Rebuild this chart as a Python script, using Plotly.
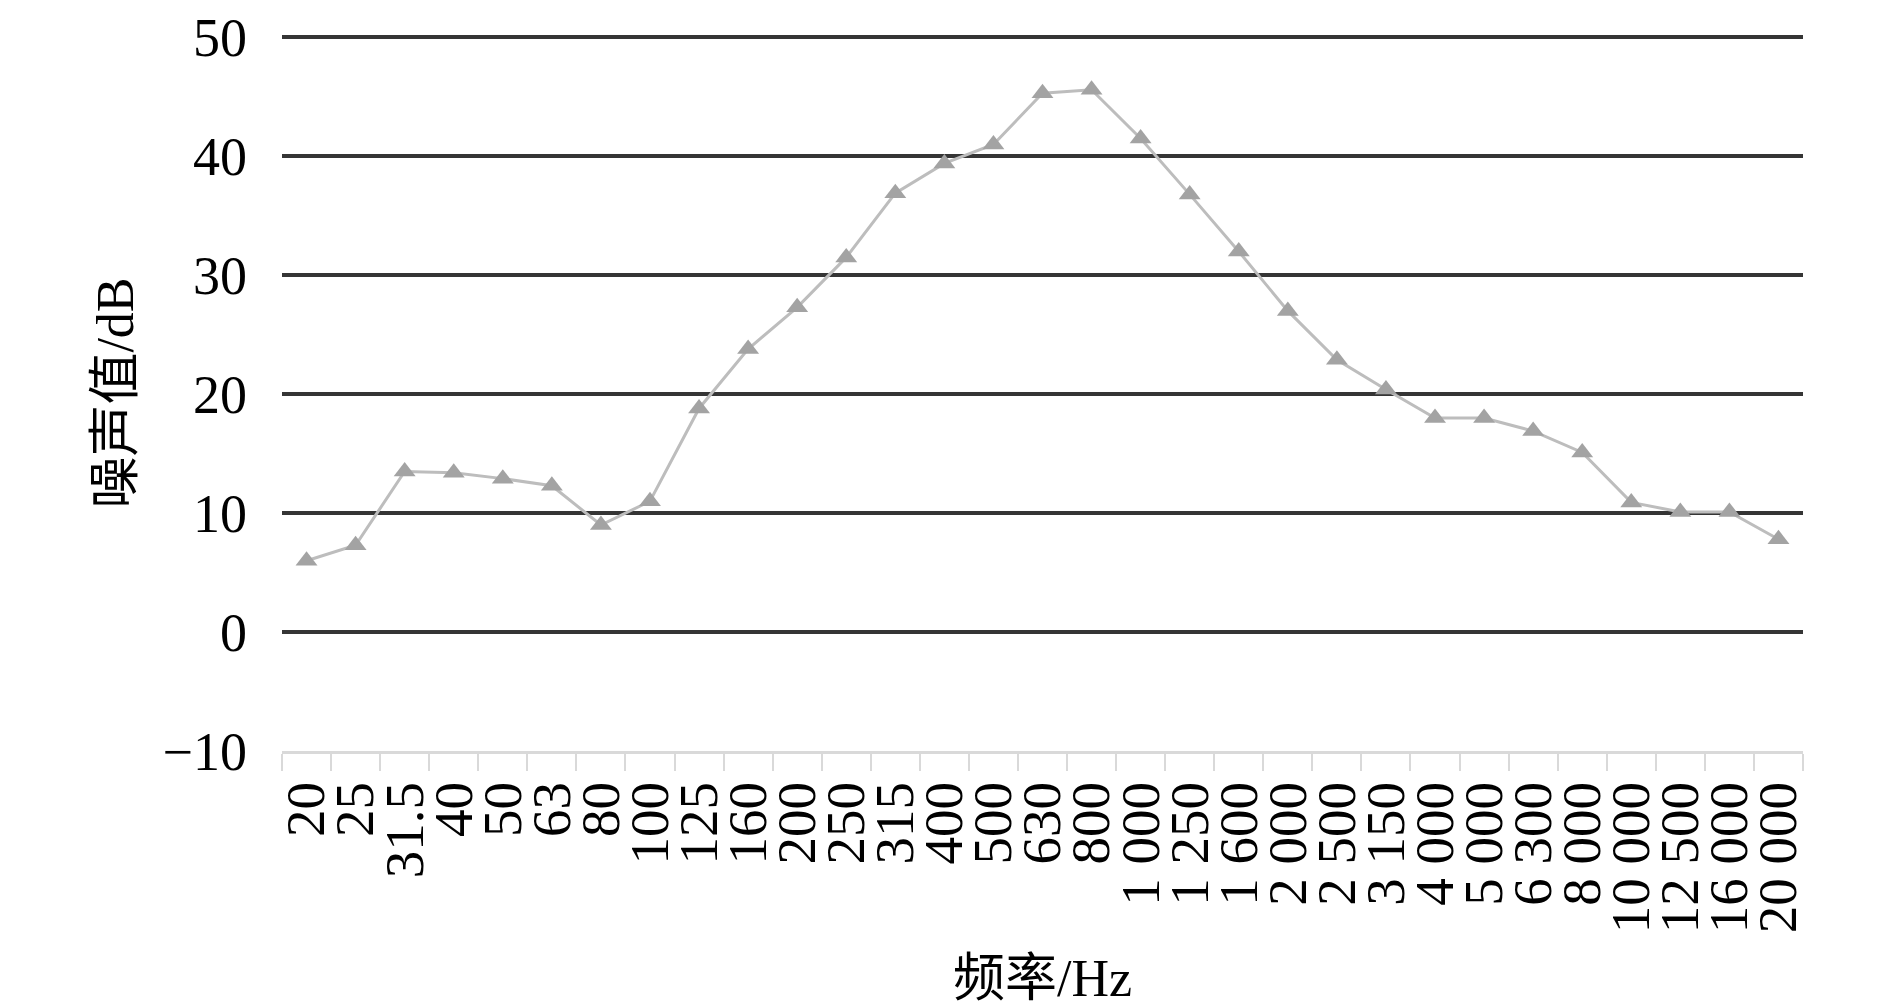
import plotly.graph_objects as go

# 1/3 octave band centre frequencies (labels as printed, with thin spacing)
freq_labels = ["20", "25", "31.5", "40", "50", "63", "80", "100", "125", "160",
               "200", "250", "315", "400", "500", "630", "800", "1 000", "1 250",
               "1 600", "2 000", "2 500", "3 150", "4 000", "5 000", "6 300",
               "8 000", "10 000", "12 500", "16 000", "20 000"]

# noise level per band, dB
noise_db = [6.0, 7.3, 13.5, 13.4, 12.9, 12.3, 9.0, 11.0, 18.8, 23.8,
            27.3, 31.5, 36.9, 39.4, 41.0, 45.3, 45.6, 41.5, 36.8,
            32.0, 27.0, 22.9, 20.4, 18.0, 18.0, 16.9,
            15.1, 10.9, 10.1, 10.1, 7.8]

y_ticks = [-10, 0, 10, 20, 30, 40, 50]

FONT = "Liberation Serif, 'Times New Roman', 'Noto Sans CJK SC', serif"

fig = go.Figure()

fig.add_trace(go.Scatter(
    x=freq_labels,
    y=noise_db,
    mode="lines+markers",
    line=dict(color="#bdbdbd", width=3),
    marker=dict(symbol="triangle-up", size=19, color="#a3a3a3"),
    showlegend=False
))

fig.update_xaxes(
    type="category",
    range=[-0.5, len(freq_labels) - 0.5],
    tickmode="linear", dtick=1,
    tickangle=-90,
    tickson="boundaries",
    ticks="outside", ticklen=17, tickwidth=2, tickcolor="#d9d9d9",
    showline=True, linecolor="#d9d9d9", linewidth=3,
    showgrid=False,
    automargin=False,
    tickfont=dict(family=FONT, size=55, color="black"),
    ticklabelstandoff=6,
    title=dict(text="频率/Hz", font=dict(family=FONT, size=52, color="black"), standoff=28),
)

# top of range nudged so the 50 gridline is not clipped at the plot edge
fig.update_yaxes(
    range=[-10, 50.2],
    tickvals=y_ticks,
    ticks="",
    showline=False,
    showgrid=True, gridcolor="#353535", gridwidth=4,
    zeroline=False,
    automargin=False,
    tickfont=dict(family=FONT, size=54, color="black"),
    ticklabelstandoff=34,
    ticklabeloverflow="allow",
    title=dict(text="噪声值/dB", font=dict(family=FONT, size=52, color="black"), standoff=12),
)

fig.update_layout(
    width=1890, height=1006,
    margin=dict(l=274, r=95, t=27, b=263),
    plot_bgcolor="white",
    paper_bgcolor="white",
)

fig.write_html("out.html")
